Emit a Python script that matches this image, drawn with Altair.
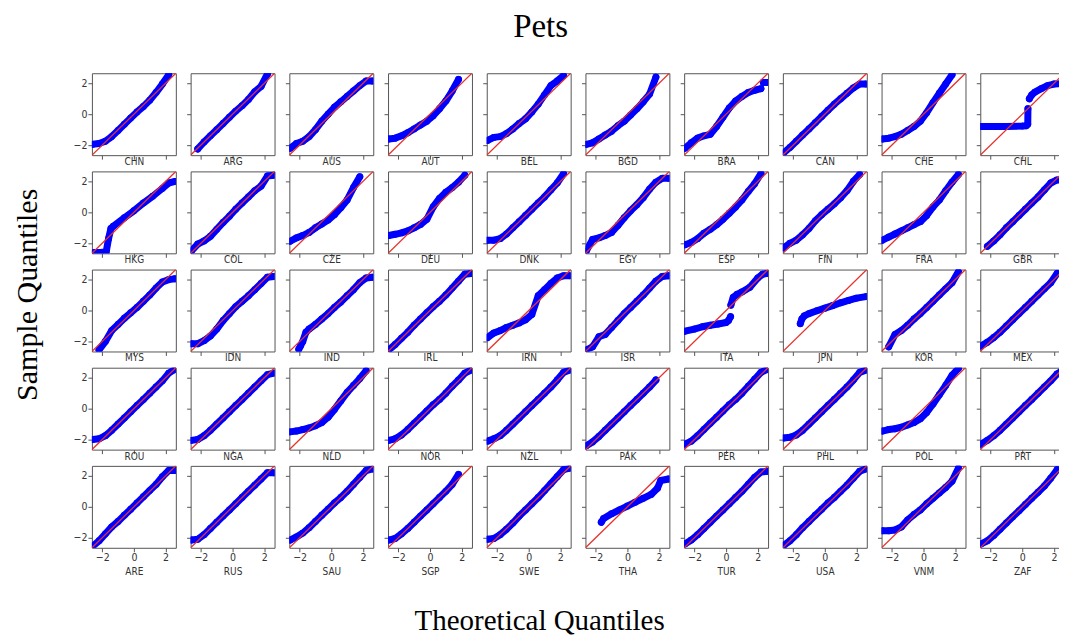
import altair as alt
import pandas as pd

# ---------------- data ----------------
GRID = [-2.6, -2.2, -1.8, -1.4, -1.0, -0.6, -0.2, 0.2, 0.6, 1.0, 1.4, 1.8, 2.2, 2.6]

ROW1 = ["CHN", "ARG", "AUS", "AUT", "BEL", "BGD", "BRA", "CAN", "CHE", "CHL"]
ROW2 = ["HKG", "COL", "CZE", "DEU", "DNK", "EGY", "ESP", "FIN", "FRA", "GBR"]
ROW3 = ["MYS", "IDN", "IND", "IRL", "IRN", "ISR", "ITA", "JPN", "KOR", "MEX"]
ROW4 = ["ROU", "NGA", "NLD", "NOR", "NZL", "PAK", "PER", "PHL", "POL", "PRT"]
ROW5 = ["ARE", "RUS", "SAU", "SGP", "SWE", "THA", "TUR", "USA", "VNM", "ZAF"]
COUNTRIES = ROW1 + ROW2 + ROW3 + ROW4 + ROW5

# sample quantiles read at the GRID theoretical quantiles (None = no points there)
CHN = [-1.95, -1.9, -1.75, -1.45, -1.05, -0.65, -0.25, 0.15, 0.5, 0.9, 1.4, 1.95, 2.55, None]
ARG = [None, -2.25, -1.8, -1.4, -1.0, -0.6, -0.2, 0.2, 0.55, 0.95, 1.45, 1.8, 2.6, None]
AUS = [-2.2, -1.9, -1.75, -1.45, -1.0, -0.45, 0.0, 0.45, 0.8, 1.15, 1.5, 1.85, 2.15, 2.15]
AUT = [-1.6, -1.55, -1.4, -1.2, -0.95, -0.7, -0.45, -0.1, 0.35, 0.85, 1.5, 2.25, None, None]
BEL = [-1.7, -1.5, -1.45, -1.25, -0.95, -0.6, -0.3, 0.15, 0.65, 1.25, 1.85, 2.15, 2.5, None]
BGD = [-1.95, -1.85, -1.6, -1.35, -1.1, -0.75, -0.45, -0.05, 0.35, 0.8, 1.3, 2.4, None, None]
CAN = [-2.5, -2.15, -1.75, -1.35, -0.95, -0.55, -0.15, 0.25, 0.65, 1.0, 1.35, 1.7, 1.95, 1.95]
CHE = [-1.6, -1.55, -1.45, -1.3, -1.05, -0.8, -0.45, 0.1, 0.75, 1.35, 1.95, 2.55, None, None]
COL = [-2.5, -2.05, -1.85, -1.55, -1.1, -0.65, -0.25, 0.2, 0.6, 1.0, 1.4, 1.7, 2.35, 2.4]
CZE = [-1.87, -1.65, -1.5, -1.3, -1.0, -0.75, -0.5, -0.15, 0.3, 0.8, 1.6, 2.3, None, None]
DEU = [-1.5, -1.42, -1.33, -1.2, -1.0, -0.78, -0.45, 0.35, 0.9, 1.3, 1.6, 1.95, 2.4, None]
DNK = [-1.8, -1.8, -1.7, -1.4, -1.0, -0.6, -0.2, 0.2, 0.6, 1.0, 1.45, 1.9, 2.5, None]
EGY = [-2.5, -1.75, -1.65, -1.5, -1.3, -0.85, -0.35, 0.1, 0.5, 0.95, 1.5, 1.95, 2.2, 2.2]
ESP = [-2.1, -1.95, -1.7, -1.35, -1.1, -0.8, -0.45, -0.05, 0.35, 0.8, 1.35, 1.85, 2.5, None]
FIN = [-2.3, -2.0, -1.8, -1.45, -1.05, -0.55, -0.15, 0.2, 0.55, 0.95, 1.4, 2.0, 2.45, None]
FRA = [-1.8, -1.6, -1.4, -1.2, -1.0, -0.8, -0.6, -0.2, 0.35, 0.8, 1.4, 1.95, 2.45, None]
GBR = [None, -2.2, -1.85, -1.45, -1.0, -0.6, -0.2, 0.2, 0.6, 1.0, 1.45, 1.9, 2.1, 2.1]
MYS = [None, -2.55, -2.0, -1.3, -0.9, -0.5, -0.15, 0.2, 0.6, 1.0, 1.45, 1.85, 2.0, 2.05]
IDN = [-2.15, -2.15, -1.95, -1.65, -1.2, -0.65, -0.2, 0.25, 0.6, 0.95, 1.35, 1.75, 2.15, 2.2]
IRL = [-2.55, -2.2, -1.8, -1.4, -0.95, -0.55, -0.15, 0.25, 0.6, 1.0, 1.45, 1.9, 2.35, 2.4]
IRN = [-1.75, -1.45, -1.3, -1.1, -0.95, -0.8, -0.6, -0.25, 0.95, 1.35, 1.75, 2.1, 2.25, 2.25]
ISR = [-2.55, -2.35, -1.7, -1.55, -1.1, -0.65, -0.2, 0.2, 0.6, 1.0, 1.45, 1.9, 2.2, 2.25]
KOR = [None, -2.35, -1.55, -1.3, -0.95, -0.55, -0.2, 0.2, 0.6, 1.0, 1.4, 1.8, 2.5, None]
MEX = [-2.3, -2.05, -1.75, -1.4, -1.0, -0.6, -0.2, 0.2, 0.6, 1.0, 1.4, 1.8, 2.4, None]
ROU = [-2.0, -1.95, -1.75, -1.4, -1.0, -0.6, -0.2, 0.2, 0.6, 1.0, 1.4, 1.8, 2.3, 2.55]
NGA = [-2.05, -2.0, -1.75, -1.4, -1.0, -0.6, -0.2, 0.2, 0.6, 1.0, 1.4, 1.8, 2.2, 2.3]
NLD = [-1.5, -1.45, -1.35, -1.25, -1.1, -0.9, -0.55, -0.05, 0.5, 1.05, 1.5, 1.95, 2.45, None]
NOR = [-2.05, -1.95, -1.7, -1.35, -0.95, -0.55, -0.15, 0.25, 0.6, 1.0, 1.45, 1.85, 2.3, 2.5]
NZL = [-2.1, -1.95, -1.75, -1.4, -1.0, -0.6, -0.2, 0.2, 0.6, 1.0, 1.4, 1.85, 2.35, 2.5]
PAK = [-2.4, -2.15, -1.8, -1.4, -1.0, -0.6, -0.2, 0.2, 0.6, 1.0, 1.4, 1.85, None, None]
PER = [-2.3, -2.1, -1.75, -1.35, -0.95, -0.55, -0.15, 0.25, 0.6, 1.0, 1.45, 1.9, 2.35, 2.55]
PHL = [-1.9, -1.85, -1.7, -1.4, -1.0, -0.6, -0.2, 0.2, 0.6, 1.0, 1.4, 1.85, 2.35, 2.5]
POL = [-1.45, -1.35, -1.3, -1.2, -1.05, -0.9, -0.65, -0.25, 0.3, 0.9, 1.5, 2.15, 2.6, None]
PRT = [-2.3, -2.05, -1.75, -1.4, -1.0, -0.6, -0.2, 0.2, 0.6, 1.0, 1.4, 1.8, 2.25, 2.5]
ARE = [-2.55, -2.2, -1.75, -1.3, -0.95, -0.55, -0.15, 0.25, 0.65, 1.05, 1.45, 1.95, 2.35, 2.35]
RUS = [-2.15, -2.1, -1.8, -1.4, -1.0, -0.6, -0.2, 0.2, 0.6, 1.0, 1.4, 1.8, 2.2, 2.2]
SAU = [-2.15, -1.95, -1.7, -1.35, -0.95, -0.55, -0.15, 0.25, 0.6, 1.0, 1.45, 1.9, 2.35, 2.45]
SGP = [-2.15, -2.05, -1.75, -1.4, -1.0, -0.6, -0.2, 0.2, 0.6, 1.0, 1.45, 2.1, None, None]
SWE = [-2.1, -2.05, -1.8, -1.45, -1.05, -0.6, -0.2, 0.2, 0.6, 1.05, 1.5, 1.95, 2.4, 2.5]
TUR = [-2.4, -2.15, -1.8, -1.4, -1.0, -0.6, -0.2, 0.2, 0.6, 1.0, 1.45, 1.9, 2.25, 2.3]
USA = [-2.5, -2.2, -1.8, -1.35, -0.95, -0.55, -0.15, 0.25, 0.6, 1.0, 1.4, 1.85, 2.3, 2.45]
VNM = [-1.55, -1.55, -1.5, -1.3, -0.85, -0.5, -0.2, 0.2, 0.55, 0.9, 1.25, 1.65, 2.5, None]
ZAF = [-2.4, -2.2, -1.85, -1.45, -1.05, -0.65, -0.25, 0.15, 0.55, 0.95, 1.35, 1.85, 2.4, None]

# panels with irregular spacing or breaks: theoretical x, sample y, segment id
BRA_X = [-2.6, -2.2, -1.8, -1.4, -1.0, -0.6, -0.2, 0.2, 0.6, 1.0, 1.4, 1.8, 2.2, 2.35, 2.6]
BRA_Y = [-2.2, -1.85, -1.55, -1.4, -1.3, -0.8, -0.2, 0.4, 0.85, 1.15, 1.4, 1.55, 1.65, 2.05, 2.05]
BRA_S = [0, 0, 0, 0, 0, 0, 0, 0, 0, 0, 0, 0, 0, 1, 1]
CHL_X = [-2.65, -2.0, -1.0, 0.0, 0.25, 0.35, 0.36, 0.45, 0.6, 0.8, 1.2, 1.6, 2.0, 2.6]
CHL_Y = [-0.8, -0.8, -0.79, -0.77, -0.75, -0.65, 0.35, 1.0, 1.25, 1.43, 1.65, 1.85, 1.95, 2.0]
CHL_S = [0, 0, 0, 0, 0, 0, 0, 1, 1, 1, 1, 1, 1, 1]
HKG_X = [-2.5, -2.1, -1.75, -1.6, -1.45, -1.3, -0.6, 0.0, 0.6, 1.2, 1.8, 2.2, 2.6]
HKG_Y = [-2.6, -2.6, -2.55, -1.7, -1.05, -0.9, -0.35, 0.1, 0.6, 1.05, 1.55, 1.9, 2.0]
HKG_S = [0, 0, 0, 0, 0, 0, 0, 0, 0, 0, 0, 0, 0]
IND_X = [-2.05, -1.95, -1.8, -1.6, -1.4, -1.0, -0.6, -0.2, 0.2, 0.6, 1.0, 1.4, 1.8, 2.2, 2.6]
IND_Y = [-2.5, -2.3, -2.0, -1.4, -1.2, -0.9, -0.55, -0.2, 0.2, 0.55, 0.95, 1.35, 1.8, 2.1, 2.15]
IND_S = [0, 0, 0, 0, 0, 0, 0, 0, 0, 0, 0, 0, 0, 0, 0]
ITA_X = [-2.65, -2.0, -1.5, -1.0, -0.5, 0.0, 0.15, 0.28, 0.3, 0.45, 0.7, 1.0, 1.5, 2.0, 2.3, 2.6]
ITA_Y = [-1.35, -1.2, -1.05, -0.95, -0.87, -0.78, -0.65, -0.4, 0.35, 0.85, 1.05, 1.2, 1.5, 2.1, 2.35, 2.4]
ITA_S = [0, 0, 0, 0, 0, 0, 0, 0, 1, 1, 1, 1, 1, 1, 1, 1]
JPN_X = [-1.55, -1.45, -1.3, -1.0, -0.5, 0.0, 0.5, 1.0, 1.5, 2.0, 2.6]
JPN_Y = [-0.85, -0.55, -0.35, -0.2, -0.02, 0.15, 0.32, 0.5, 0.65, 0.8, 0.9]
JPN_S = [0, 0, 0, 0, 0, 0, 0, 0, 0, 0, 0]
THA_X = [-1.65, -1.5, -1.0, -0.5, 0.0, 0.5, 1.0, 1.5, 1.9, 2.1, 2.6]
THA_Y = [-1.0, -0.75, -0.45, -0.2, 0.05, 0.3, 0.55, 0.8, 1.2, 1.7, 1.8]
THA_S = [0, 0, 0, 0, 0, 0, 0, 0, 0, 0, 0]

DIAG = [-3.0, 3.0]          # the 45-degree reference line

SERIES = {
    "CHN": CHN, "ARG": ARG, "AUS": AUS, "AUT": AUT, "BEL": BEL, "BGD": BGD,
    "CAN": CAN, "CHE": CHE, "COL": COL, "CZE": CZE, "DEU": DEU, "DNK": DNK,
    "EGY": EGY, "ESP": ESP, "FIN": FIN, "FRA": FRA, "GBR": GBR, "MYS": MYS,
    "IDN": IDN, "IRL": IRL, "IRN": IRN, "ISR": ISR, "KOR": KOR, "MEX": MEX,
    "ROU": ROU, "NGA": NGA, "NLD": NLD, "NOR": NOR, "NZL": NZL, "PAK": PAK,
    "PER": PER, "PHL": PHL, "POL": POL, "PRT": PRT, "ARE": ARE, "RUS": RUS,
    "SAU": SAU, "SGP": SGP, "SWE": SWE, "TUR": TUR, "USA": USA, "VNM": VNM,
    "ZAF": ZAF,
}
SPECIAL = {
    "BRA": (BRA_X, BRA_Y, BRA_S), "CHL": (CHL_X, CHL_Y, CHL_S),
    "HKG": (HKG_X, HKG_Y, HKG_S), "IND": (IND_X, IND_Y, IND_S),
    "ITA": (ITA_X, ITA_Y, ITA_S), "JPN": (JPN_X, JPN_Y, JPN_S),
    "THA": (THA_X, THA_Y, THA_S),
}

# ---------------- styling ----------------
BLUE = "#0000ff"
RED = "#e8302a"
DOM = [-2.65, 2.65]
PW, PH = 84, 82
SANS = "'DejaVu Sans Condensed', 'Liberation Sans Narrow', 'DejaVu Sans', sans-serif"
SERIF = "Liberation Serif"

diag_df = pd.DataFrame({"x": DIAG, "y": DIAG})


def panel_data(c):
    if c in SPECIAL:
        xs, ys, ss = SPECIAL[c]
    else:
        xs, ys, ss = GRID, SERIES[c], [0] * len(GRID)
    rows = []
    for k, (x, y, s) in enumerate(zip(xs, ys, ss)):
        if y is not None:
            rows.append({"x": x, "y": y, "seg": s, "i": k})
    return pd.DataFrame(rows)


def panel(idx, c):
    r, col = divmod(idx, 10)
    bottom = r == 4
    xaxis = alt.Axis(
        values=[-2, 0, 2], labels=bottom, title=c,
        titlePadding=3 if bottom else -3,
    )
    yaxis = alt.Axis(values=[-2, 0, 2], labels=(col == 0), title=None)
    X = alt.X("x:Q", scale=alt.Scale(domain=DOM, nice=False, zero=False), axis=xaxis)
    Y = alt.Y("y:Q", scale=alt.Scale(domain=DOM, nice=False, zero=False), axis=yaxis)
    df = panel_data(c)
    band = alt.Chart(df).mark_line(
        color=BLUE, strokeWidth=7, strokeCap="round", strokeJoin="round", clip=True
    ).encode(x=X, y=Y, detail="seg:N", order="i:Q")
    dots = alt.Chart(df).mark_circle(color=BLUE, size=48, opacity=1, clip=True).encode(x=X, y=Y)
    ref = alt.Chart(diag_df).mark_line(color=RED, strokeWidth=1.3, clip=True).encode(x=X, y=Y)
    return alt.layer(band, dots, ref).properties(width=PW, height=PH)


panels = [panel(i, c) for i, c in enumerate(COUNTRIES)]

grid = alt.concat(
    *panels, columns=10, spacing={"row": 16.25, "column": 14.8}, bounds="flush",
    title=alt.TitleParams(
        "Sample Quantiles", orient="left", anchor="middle", font=SERIF,
        fontSize=30, fontWeight="normal", color="black", offset=30, dx=30,
    ),
)
mid = alt.vconcat(
    grid,
    title=alt.TitleParams(
        "Theoretical Quantiles", orient="bottom", anchor="middle", font=SERIF,
        fontSize=29, fontWeight="normal", color="black", offset=30, dx=1,
    ),
)
chart = alt.vconcat(
    mid,
    title=alt.TitleParams(
        "Pets", anchor="middle", font=SERIF, fontSize=33, fontWeight="normal",
        color="black", offset=29, dx=2,
    ),
).configure(padding={"left": 4, "top": 2, "right": -6, "bottom": 0}).configure_view(
    stroke="#555555", strokeWidth=1
).configure_axis(
    domain=False, grid=False, tickSize=4, tickColor="#555555", tickWidth=1,
    labelFont=SANS, labelFontSize=10.5, labelColor="#333333", labelPadding=1,
    titleFont=SANS, titleFontSize=10, titleFontWeight="normal", titleColor="#333333",
)

chart.save("out.html", embed_options={"renderer": "svg", "actions": False})
